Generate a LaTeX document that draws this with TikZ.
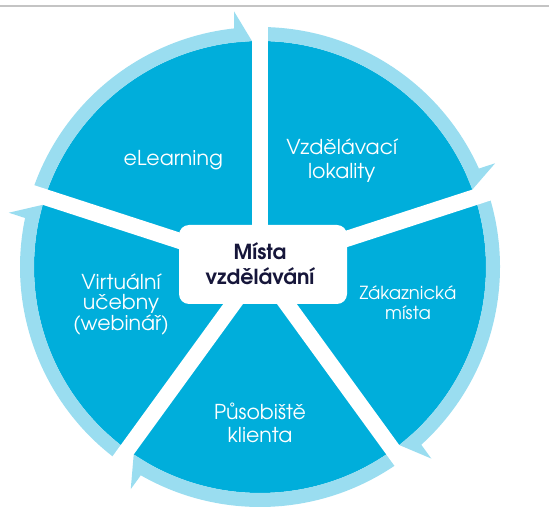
\documentclass[tikz,border=0pt]{standalone}
\usepackage{fontspec}
\setmainfont{texgyreadventor}[Extension=.otf, UprightFont=*-regular, BoldFont=*-bold]
\usetikzlibrary{calc}
\definecolor{segblue}{RGB}{0,174,219}
\definecolor{ringblue}{RGB}{154,221,240}
\definecolor{navy}{RGB}{22,22,58}
\definecolor{rulegray}{RGB}{196,196,196}
\begin{document}
\begin{tikzpicture}[x=1pt,y=1pt,
  lbl/.style={text=white, inner sep=0pt, anchor=base},
  lblS/.style={lbl, font=\fontsize{18}{21}\selectfont},
  lblL/.style={lbl, font=\fontsize{20.5}{24}\selectfont},
  ctr/.style={text=navy, inner sep=0pt, anchor=base, font=\bfseries\fontsize{20.7}{24}\selectfont}]
\useasboundingbox (0,0) rectangle (549,517);
\draw[rulegray, line width=2pt] (0,511) -- (549,511);
\coordinate (C) at (260,250);
\fill[segblue] (C) circle (226);
\foreach \d in {90,18,-54,-126,-198} {
  \pgfmathsetmacro\e{\d-72}
  \fill[ringblue] ($(C)+(\d:240)$) arc[start angle=\d, end angle=\e+6.22, radius=240]
     -- ($(C)+(\e:255.7)+(\e+90:26)$)
     -- ($(C)+(\e:225.86)+(\e+90:8)$)
     -- ($(C)+(\e+6.61:226)$)
     arc[start angle=\e+6.61, end angle=\d, radius=226] -- cycle;
}
\foreach \d in {90,18,-54,-126,-198}
  \draw[white, line width=16pt] (C) -- ($(C)+(\d:250)$);
\node[fill=white, rounded corners=10pt, minimum width=168pt, minimum height=79pt, inner sep=0pt] (box) at (263,252.5) {};
\node[ctr] (c1) at (260,257) {Místa};
\node[ctr] (c2) at (260,232) {vzdělávání};
\node[lblL] (a1) at (173.3,351) {eLearning};
\node[lblL] (b1) at (341.7,362.7) {Vzdělávací};
\node[lblL] (b2) at (341.7,338.7) {lokality};
\node[lblS] (z1) at (408,217) {Zákaznická};
\node[lblS] (z2) at (408,197) {místa};
\node[lblL] (p1) at (260,97.7) {Působiště};
\node[lblL] (p2) at (260,74.3) {klienta};
\node[lblL] (v1) at (121,227) {Virtuální};
\node[lblL] (v2) at (121,207) {učebny};
\node[lblL] (v3) at (121,186) {(webinář)};
\end{tikzpicture}
\end{document}
